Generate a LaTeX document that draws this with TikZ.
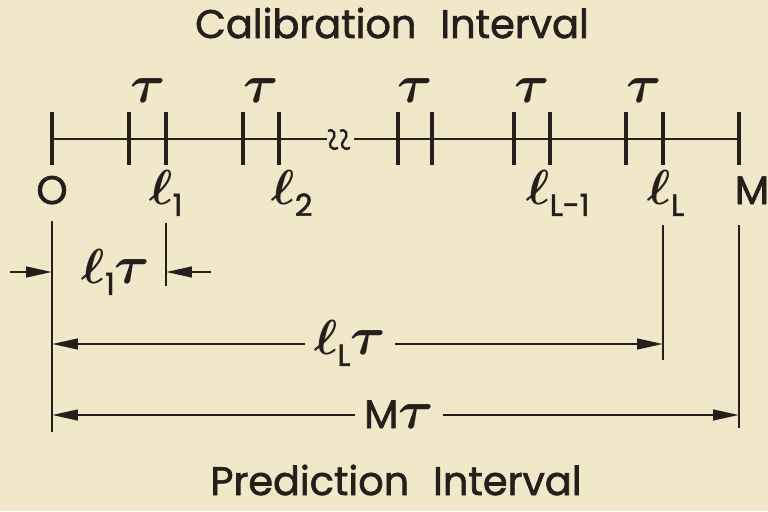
\documentclass[tikz,border=0pt]{standalone}
\usepackage{fix-cm}
\usepackage{amsmath}
\usepackage{fontspec}
\setmainfont{Poppins}[UprightFeatures={FakeBold=1.6}]
\usetikzlibrary{arrows.meta}
\definecolor{paper}{RGB}{240,232,200}
\definecolor{ink}{RGB}{38,30,26}
\newcommand{\bigtau}{{\fontsize{46}{46}\selectfont\boldmath$\tau$}}
\newcommand{\bigell}{{\fontsize{42}{42}\selectfont\boldmath$\ell$}}
\newcommand{\ellsub}[1]{\bigell\raisebox{-0.3em}{\fontsize{26}{26}\selectfont #1}}

\begin{document}
\begin{tikzpicture}[x=0.03cm,y=-0.03cm,color=ink,
    axis/.style={line width=2.4pt},
    tickline/.style={line width=3pt},
    extline/.style={line width=2.2pt},
    dimline/.style={line width=2pt},
    tip/.tip={Triangle[length=22pt,width=9pt]}]

    \fill[paper] (0,0) rectangle (768,511);
    \useasboundingbox (0,0) rectangle (768,511);

    \tikzstyle{every node}=[anchor=base,inner sep=0pt,font=\fontsize{34}{34}\selectfont]
    \node(title) at (392,38){Calibration\hspace{0.6em}Interval};
    \node(pred) at (396,495){Prediction\hspace{0.6em}Interval};

    % time axis with break
    \coordinate (O) at (52,139);
    \coordinate (M) at (739,139);
    \coordinate (brkL) at (327,139);
    \coordinate (brkR) at (354,139);
    \draw[axis] (O)--(brkL);
    \draw[axis] (brkR)--(M);
    \foreach \s in {328,340}
      \draw[line width=2pt] (\s,131) .. controls (\s+6,128) and (\s+9,135) .. (\s+4,140)
        .. controls (\s,144) and (\s+2,151) .. (\s+10,148);
    \foreach \x in {52,129,166,243,279,398,432,514,550,626,663,739}
      \draw[tickline] (\x,112)--(\x,165);
    \foreach \x in {148,261,415,532,644}
      \node at (\x,103){\bigtau};

    \node(l0) at (52,204){O};
    \node(l1) at (166,204){\ellsub{1}};
    \node(l2) at (292,204){\ellsub{2}};
    \node(lLm) at (558,204){\ellsub{L-1}};
    \node(lL) at (666,204){\ellsub{L}};
    \node(lM) at (752,204){M};

    % extension lines
    \coordinate (Otop) at (52,221);
    \coordinate (Obot) at (52,432);
    \coordinate (e1top) at (166,223);
    \coordinate (e1bot) at (166,286);
    \coordinate (eLtop) at (663,225);
    \coordinate (eLbot) at (663,360);
    \coordinate (eMtop) at (739,225);
    \coordinate (eMbot) at (739,428);
    \draw[extline] (Otop)--(Obot);
    \draw[extline] (e1top)--(e1bot);
    \draw[extline] (eLtop)--(eLbot);
    \draw[extline] (eMtop)--(eMbot);

    % dimensions
    \coordinate (d1a) at (10,272);
    \coordinate (d1b) at (211,272);
    \draw[dimline,-tip] (d1a)--(Otop|-d1a);
    \draw[dimline,-tip] (d1b)--(e1top|-d1b);
    \node(t1) at (116,283){\ellsub{1}\bigtau};

    \coordinate (d2) at (350,344);
    \draw[dimline,tip-tip] (Obot|-d2)--(eLbot|-d2);
    \node[fill=paper,inner xsep=8pt](tL) at (350,354){\ellsub{L}\bigtau};

    \coordinate (d3) at (399,415);
    \draw[dimline,tip-tip] (Obot|-d3)--(eMbot|-d3);
    \node[fill=paper,inner xsep=8pt](tM) at (399,428){M\bigtau};

\end{tikzpicture}
\end{document}
